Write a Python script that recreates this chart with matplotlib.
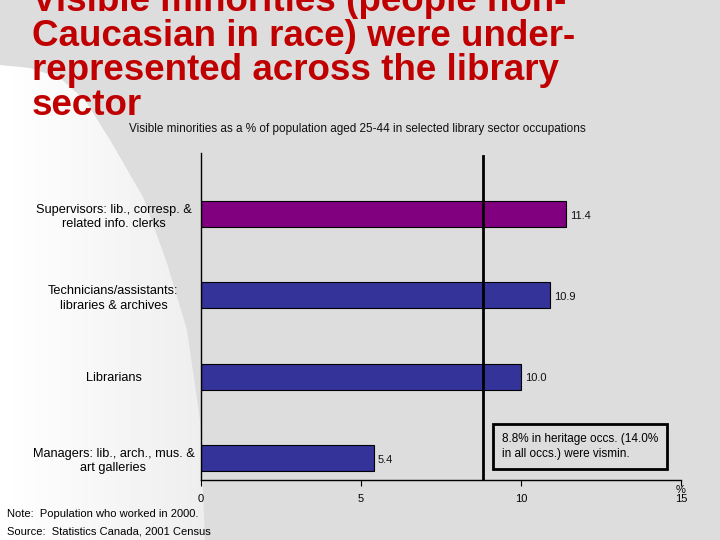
import numpy as np
import matplotlib.pyplot as plt
from matplotlib.patches import Polygon

categories = [
    "Supervisors: lib., corresp. &\nrelated info. clerks",
    "Technicians/assistants:\nlibraries & archives",
    "Librarians",
    "Managers: lib., arch., mus. &\nart galleries",
]
values = [11.4, 10.9, 10.0, 5.4]
bar_colors = ["#800080", "#333399", "#333399", "#333399"]
benchmark = 8.8
xticks = [0, 5, 10, 15]

title_lines = [
    "Visible minorities (people non-",
    "Caucasian in race) were under-",
    "represented across the library",
    "sector",
]
subtitle = "Visible minorities as a % of population aged 25-44 in selected library sector occupations"
note_lines = ["Note:  Population who worked in 2000.",
              "Source:  Statistics Canada, 2001 Census"]
box_text = "8.8% in heritage occs. (14.0%\nin all occs.) were vismin."

plt.rcParams["font.family"] = ["Liberation Sans", "DejaVu Sans"]

fig = plt.figure(figsize=(7.2, 5.4), dpi=100)
fig.patch.set_facecolor("#dddddd")

# slide background: white swoosh on the left
bg = fig.add_axes([0, 0, 1, 1], zorder=-5)
bg.set_xlim(0, 720)
bg.set_ylim(540, 0)
bg.axis("off")
swoosh = Polygon([(0, 65), (30, 68), (60, 78), (85, 100), (110, 140),
                  (143, 197), (167, 263), (187, 330), (200, 420), (205, 540),
                  (0, 540)], closed=True, facecolor="none", edgecolor="none")
bg.add_patch(swoosh)
grad = np.tile(np.linspace(1.0, 0.93, 64), (8, 1))
im = bg.imshow(grad, cmap="gray", vmin=0, vmax=1, extent=[0, 210, 540, 60],
               aspect="auto", interpolation="bilinear")
im.set_clip_path(swoosh)

# title as one block, last line's baseline anchored
fig.text(32 / 720, 1 - 115 / 540, "\n".join(title_lines), color="#c00000",
         fontsize=26.5, fontweight="bold", va="baseline", ha="left",
         linespacing=0.99)

fig.text(129 / 720, 1 - 132 / 540, subtitle, fontsize=8.5, color="#111111",
         va="baseline", ha="left")

ax = fig.add_axes([201 / 720, 60 / 540, 480 / 720, 327 / 540])
ax.set_facecolor("none")

pos = list(range(len(values)))[::-1]
ax.barh(pos, values, height=0.32, color=bar_colors, edgecolor="black",
        linewidth=0.8, zorder=2)
for p, v in zip(pos, values):
    ax.text(v + 0.12, p - 0.02, f"{v:.1f}", va="center",
            ha="left", fontsize=8, color="#111111")

ax.axvline(benchmark, ymin=0, ymax=0.99, color="black", linewidth=2, zorder=3)

ax.set_xlim(0, 15)
ax.set_ylim(-0.27, 3.75)
ax.set_xticks(xticks)
ax.set_xticklabels([str(t) for t in xticks], fontsize=8)
ax.set_yticks(pos)
ax.set_yticklabels(categories, fontsize=9.2, ha="center", linespacing=1.3)
ax.tick_params(axis="y", length=0, pad=63)
ax.tick_params(axis="x", length=4, width=0.8, pad=6)
for s in ["top", "right"]:
    ax.spines[s].set_visible(False)
for s in ["left", "bottom"]:
    ax.spines[s].set_linewidth(1.0)

ax.text(15, -0.33, "%", fontsize=8, ha="center", va="top")

ax.text(9.4, 0.14, box_text, fontsize=8.5, ha="left", va="center",
        linespacing=1.4,
        bbox=dict(boxstyle="square,pad=0.75", facecolor="none",
                  edgecolor="black", linewidth=2))

for line, yb in zip(note_lines, [517, 534]):
    fig.text(7 / 720, 1 - yb / 540, line, fontsize=8, ha="left",
             va="baseline")

fig.savefig("out.png", dpi=100, facecolor=fig.get_facecolor())
